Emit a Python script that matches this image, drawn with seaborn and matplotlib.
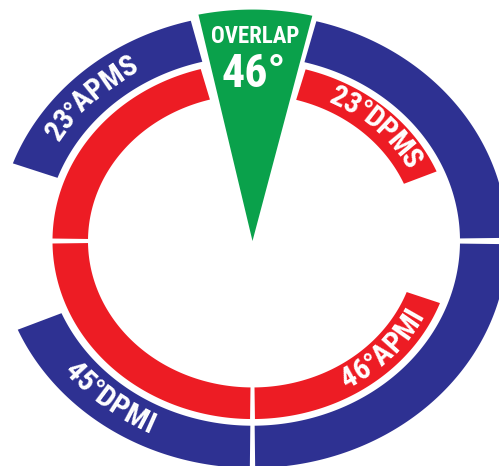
import numpy as np
import matplotlib.pyplot as plt
import seaborn as sns

# ring segments, angles in degrees clockwise from 12 o'clock (diagram is not to scale)
blue_start = [-70.0, 14.5, 90.8, 180.6]
blue_end = [-14.0, 89.2, 179.4, 247.0]
blue_text = ['23°APMS', '', '', '45°DPMI']

red_start = [-89.2, 15.4, 110.4, 180.7]
red_end = [-15.0, 67.0, 179.3, 269.2]
red_text = ['', '23°DPMS', '46°APMI', '']

overlap_span = [-12.0, 13.3]
overlap_text = ['OVERLAP', '46°']

# where each label sits along its segment (deg)
blue_label_ang = [-45, None, None, 219]
red_label_ang = [None, 44, 133, None]

sns.set_style('white')
plt.rcParams['font.family'] = ['Liberation Sans Narrow', 'Roboto Condensed',
                               'DejaVu Sans Condensed', 'Roboto', 'DejaVu Sans']

BLUE, RED, GREEN = '#2e3192', '#ed1c24', '#0aa14b'
blue_r = (0.83, 1.02)
red_r = (0.658, 0.80)
green_r = 1.04
LABEL_SIZE = 21.5

fig = plt.figure(figsize=(4.99, 4.66), dpi=100)
ax = fig.add_axes([0, 0, 1, 1])
xlim, ylim = (-1.01, 0.986), (-1.011, 1.083)
ax.set_xlim(*xlim)
ax.set_ylim(*ylim)
ax.axis('off')
sx = 499 / (xlim[1] - xlim[0])
sy = 466 / (ylim[1] - ylim[0])
renderer = fig.canvas.get_renderer()


def band(a0, a1, r0, r1, color):
    t = np.radians(np.linspace(a0, a1, 150))
    xs = np.concatenate([r1 * np.sin(t), r0 * np.sin(t[::-1])])
    ys = np.concatenate([r1 * np.cos(t), r0 * np.cos(t[::-1])])
    ax.fill(xs, ys, color=color, lw=0)


def text_width(s, size):
    if not s:
        return 0.0
    t = ax.text(0, 0, s, fontsize=size, fontweight='bold')
    w = t.get_window_extent(renderer).width
    t.remove()
    return w


def arc_text(s, ang, r, size, top=True):
    cum = [text_width(s[:i], size) for i in range(len(s) + 1)]
    adv = np.diff(cum)
    adv = np.array([a * 0.75 if ch == '°' else a for ch, a in zip(s, adv)])
    cum = np.r_[0, np.cumsum(adv)]
    th = np.radians(ang)
    speed = r * np.hypot(sx * np.cos(th), sy * np.sin(th))  # px per radian
    d = 1 if top else -1
    start = th - d * cum[-1] / speed / 2
    for i, ch in enumerate(s):
        c = start + d * (cum[i] + cum[i + 1]) / 2 / speed
        if top:
            rot = np.degrees(np.arctan2(-sy * np.sin(c), sx * np.cos(c)))
        else:
            rot = np.degrees(np.arctan2(sy * np.sin(c), -sx * np.cos(c)))
        ax.text(r * np.sin(c), r * np.cos(c), ch, rotation=rot, rotation_mode='anchor',
                ha='center', va='center', fontsize=size, fontweight='bold', color='white')


for a0, a1 in zip(blue_start, blue_end):
    band(a0, a1, blue_r[0], blue_r[1], BLUE)
for a0, a1 in zip(red_start, red_end):
    band(a0, a1, red_r[0], red_r[1], RED)

t = np.radians(np.linspace(overlap_span[0], overlap_span[1], 60))
ax.fill(np.r_[0, green_r * np.sin(t)], np.r_[0, green_r * np.cos(t)], color=GREEN, lw=0)

for s, ang in zip(blue_text, blue_label_ang):
    if s:
        arc_text(s, ang, sum(blue_r) / 2, LABEL_SIZE, top=np.cos(np.radians(ang)) > 0)
for s, ang in zip(red_text, red_label_ang):
    if s:
        arc_text(s, ang, sum(red_r) / 2, LABEL_SIZE, top=np.cos(np.radians(ang)) > 0)

ax.text(0.01, 0.919, overlap_text[0], ha='center', va='center', fontsize=16.5,
        fontweight='bold', color='white')
ax.text(0.004, 0.75, overlap_text[1], ha='center', va='center', fontsize=33,
        fontweight='bold', color='white')

fig.savefig('out.png', dpi=100, facecolor='white')
